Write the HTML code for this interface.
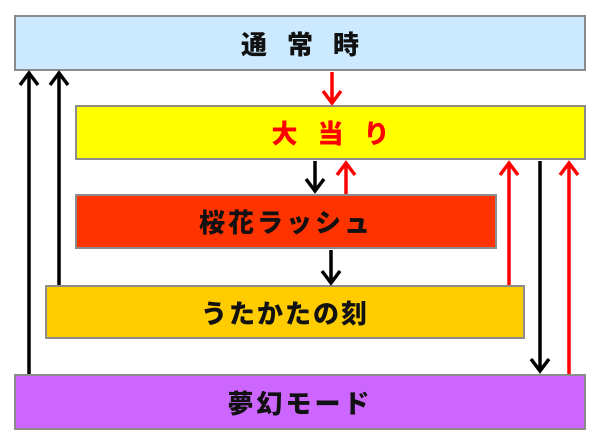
<!DOCTYPE html>
<html><head><meta charset="utf-8"><style>
body{margin:0;width:600px;height:445px;background:#fff;position:relative;overflow:hidden;font-family:"Liberation Sans","Noto Sans CJK JP",sans-serif;}
.b{position:absolute;box-sizing:border-box;border:2px solid #8c8c8c;display:flex;align-items:center;justify-content:center;font-weight:900;font-size:26px;color:#111;}
svg{position:absolute;left:0;top:0;}
</style></head><body>
<div class="b" style="left:14px;top:15px;width:572px;height:56px;background:#cceaff;letter-spacing:20px;padding-left:20px;">通常時</div>
<div class="b" style="left:75px;top:105px;width:511px;height:55px;background:#ffff00;color:#ff0000;letter-spacing:20px;padding-left:20px;">大当り</div>
<div class="b" style="left:75px;top:194px;width:422px;height:55px;background:#ff3300;letter-spacing:3px;">桜花ラッシュ</div>
<div class="b" style="left:45px;top:285px;width:480px;height:54px;background:#ffcc00;letter-spacing:2px;">うたかたの刻</div>
<div class="b" style="left:14px;top:374px;width:572px;height:56px;background:#cc66ff;letter-spacing:3px;">夢幻モード</div>
<svg width="600" height="445" fill="none" stroke-width="3.5">
<g stroke="#000">
<path d="M29 374V73M20 85L29 73L38 85"/>
<path d="M59 285V73M50 85L59 73L68 85"/>
<path d="M315 161V191M306 179L315 191L324 179"/>
<path d="M331 250V283M322 271L331 283L340 271"/>
<path d="M540 161V371M531 359L540 371L549 359"/>
</g>
<g stroke="#ff0000">
<path d="M332 72V103M323 91L332 103L341 91"/>
<path d="M346 194V163M337 175L346 163L355 175"/>
<path d="M509 285V163M500 175L509 163L518 175"/>
<path d="M569 374V163M560 175L569 163L578 175"/>
</g>
</svg>
</body></html>
